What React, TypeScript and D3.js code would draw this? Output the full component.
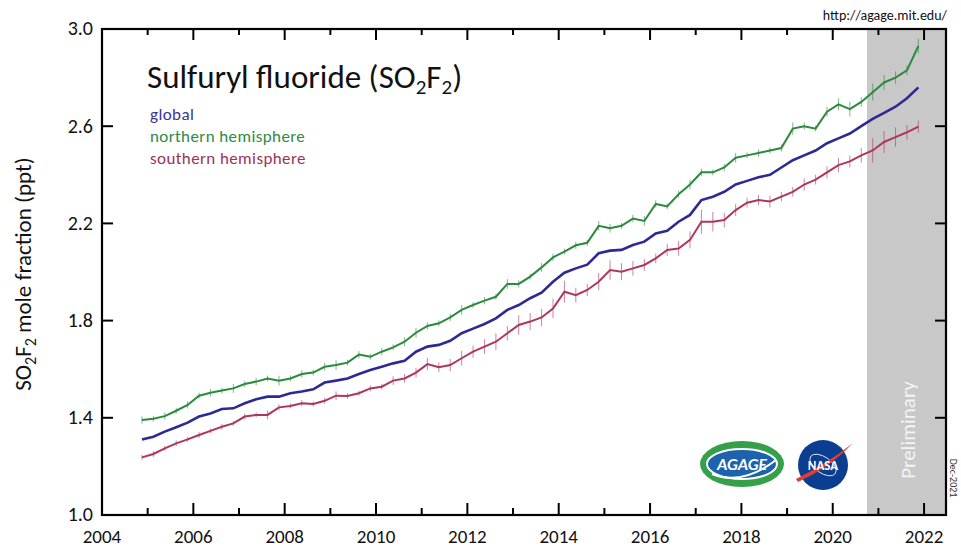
import React from 'react'
import * as d3 from 'd3'

// quarterly readings, first point Nov 2004
const firstMonth = 2004.875
const step = 0.25

const northern = [
  1.391, 1.396, 1.407, 1.429, 1.453, 1.491, 1.503, 1.512, 1.521, 1.539,
  1.549, 1.562, 1.553, 1.562, 1.58, 1.586, 1.61, 1.617, 1.627, 1.66,
  1.651, 1.672, 1.69, 1.713, 1.75, 1.778, 1.789, 1.813, 1.844, 1.864,
  1.882, 1.898, 1.951, 1.951, 1.981, 2.019, 2.06, 2.084,
  2.11, 2.12, 2.19, 2.18, 2.19, 2.22, 2.21, 2.28, 2.27, 2.32,
  2.36, 2.41, 2.41, 2.43, 2.47, 2.48, 2.49, 2.5, 2.51, 2.59,
  2.6, 2.59, 2.66, 2.69, 2.67, 2.7, 2.74, 2.78, 2.8, 2.83, 2.93,
]
const global = [
  1.311, 1.322, 1.343, 1.361, 1.38, 1.405, 1.418, 1.436, 1.439, 1.46,
  1.476, 1.487, 1.487, 1.501, 1.508, 1.517, 1.545, 1.553, 1.562, 1.58,
  1.597, 1.61, 1.624, 1.635, 1.672, 1.693, 1.7, 1.717, 1.748, 1.767,
  1.786, 1.809, 1.844, 1.864, 1.892, 1.915, 1.96, 1.997,
  2.015, 2.03, 2.077, 2.088, 2.091, 2.111, 2.125, 2.159, 2.17, 2.207,
  2.235, 2.296, 2.31, 2.33, 2.36, 2.375, 2.39, 2.4, 2.43, 2.46,
  2.48, 2.5, 2.53, 2.55, 2.57, 2.6, 2.63, 2.655, 2.68, 2.715, 2.76,
]
const southern = [
  1.237, 1.251, 1.274, 1.295, 1.311, 1.329, 1.346, 1.363, 1.377, 1.405,
  1.412, 1.412, 1.443, 1.449, 1.46, 1.457, 1.47, 1.491, 1.49, 1.501,
  1.521, 1.528, 1.553, 1.562, 1.586, 1.621, 1.608, 1.617, 1.645, 1.672,
  1.693, 1.713, 1.748, 1.782, 1.796, 1.813, 1.85, 1.919,
  1.905, 1.926, 1.96, 2.008, 2.001, 2.015, 2.029, 2.056, 2.091, 2.097,
  2.132, 2.207, 2.207, 2.214, 2.255, 2.285, 2.296, 2.29, 2.31, 2.33,
  2.36, 2.38, 2.41, 2.44, 2.455, 2.48, 2.5, 2.535, 2.555, 2.575, 2.598,
]
const northernErr = [
  0.015, 0.012, 0.015, 0.012, 0.015, 0.012, 0.015, 0.012, 0.018, 0.012,
  0.015, 0.012, 0.02, 0.012, 0.015, 0.012, 0.015, 0.02, 0.012, 0.015,
  0.012, 0.015, 0.012, 0.018, 0.02, 0.015, 0.012, 0.015, 0.02, 0.012,
  0.015, 0.012, 0.02, 0.015, 0.012, 0.018, 0.015, 0.012,
  0.015, 0.012, 0.02, 0.018, 0.012, 0.015, 0.02, 0.015, 0.012, 0.015,
  0.02, 0.015, 0.012, 0.015, 0.02, 0.012, 0.015, 0.012, 0.015, 0.025,
  0.015, 0.012, 0.02, 0.025, 0.03, 0.02, 0.035, 0.03, 0.025, 0.02, 0.03,
]
const southernErr = [
  0.01, 0.012, 0.01, 0.012, 0.01, 0.012, 0.01, 0.012, 0.01, 0.012,
  0.01, 0.018, 0.012, 0.01, 0.012, 0.01, 0.012, 0.018, 0.012, 0.01,
  0.012, 0.012, 0.018, 0.018, 0.02, 0.025, 0.02, 0.025, 0.03, 0.025,
  0.03, 0.035, 0.03, 0.04, 0.035, 0.035, 0.04, 0.045,
  0.03, 0.025, 0.035, 0.04, 0.035, 0.03, 0.025, 0.02, 0.025, 0.03,
  0.035, 0.05, 0.04, 0.03, 0.025, 0.02, 0.02, 0.025, 0.02, 0.02,
  0.025, 0.02, 0.025, 0.03, 0.025, 0.03, 0.05, 0.045, 0.04, 0.03, 0.025,
]
const yTicks = [1.0, 1.4, 1.8, 2.2, 2.6, 3.0]
const xLabels = [2004, 2006, 2008, 2010, 2012, 2014, 2016, 2018, 2020, 2022]
const preliminaryFrom = 2020.75

const font = 'Carlito, Lato, "Open Sans", sans-serif'
const cGlobal = '#2d2a94'
const cNorth = '#2b8a3c'
const cSouth = '#ad3560'

export default function App() {
  const width = 961
  const height = 547
  const x = d3.scaleLinear().domain([2004, 2022.48]).range([102, 946])
  const y = d3.scaleLinear().domain([1, 3]).range([515, 29])
  const times = global.map((_, i) => firstMonth + i * step)

  const line = d3
    .line<number>()
    .x((_, i) => x(times[i]))
    .y((d) => y(d))

  const [x0, x1] = x.range()
  const [yb, yt] = y.range()
  const years = d3.range(2005, 2023)

  const errBars = (vals: number[], errs: number[], color: string) =>
    vals.map((v, i) => (
      <line
        key={i}
        x1={x(times[i])}
        x2={x(times[i])}
        y1={y(v - errs[i])}
        y2={y(v + errs[i])}
        stroke={color}
        strokeWidth={1}
        opacity={0.6}
      />
    ))

  return (
    <svg
      width={width}
      height={height}
      style={{ position: 'absolute', left: 0, top: 0, background: '#fff' }}
      fontFamily={font}
    >
      <rect x={x(preliminaryFrom)} y={yt} width={x1 - x(preliminaryFrom)} height={yb - yt} fill="#c8c8c8" />
      <text
        transform={`translate(${(x(preliminaryFrom) + x1) / 2 + 9},${y(1.35)}) rotate(-90)`}
        textAnchor="middle"
        fontSize={21}
        fill="#f4f4f4"
      >
        Preliminary
      </text>

      {/* AGAGE logo */}
      <g transform="translate(742,464)">
        <ellipse rx={42} ry={23} fill="#35a049" />
        <ellipse rx={35} ry={15} fill="#1d62ad" stroke="#fff" strokeWidth={2} />
        <path d="M-30,10 Q0,22 34,-4" fill="none" stroke="#fff" strokeWidth={2} />
        <text y={6} textAnchor="middle" fontSize={17} fontWeight="bold" fontStyle="italic" fill="#fff">
          AGAGE
        </text>
      </g>
      {/* NASA logo */}
      <g transform="translate(823,465)">
        <circle r={25} fill="#0b3d91" />
        <ellipse rx={15} ry={8} fill="none" stroke="#fff" strokeWidth={0.8} transform="rotate(35)" />
        <path d="M-27,14 Q5,-2 30,-22 Q8,2 -25,17 Z" fill="#e03c31" />
        <text y={5} textAnchor="middle" fontSize={13} fontWeight="bold" fill="#fff">
          NASA
        </text>
      </g>

      {errBars(northern, northernErr, cNorth)}
      {errBars(southern, southernErr, cSouth)}
      <path d={line(southern) ?? ''} fill="none" stroke={cSouth} strokeWidth={2} />
      <path d={line(northern) ?? ''} fill="none" stroke={cNorth} strokeWidth={2} />
      <path d={line(global) ?? ''} fill="none" stroke={cGlobal} strokeWidth={2.6} />

      <rect x={x0} y={yt} width={x1 - x0} height={yb - yt} fill="none" stroke="#000" strokeWidth={2.2} />

      {years.map((yr) => {
        const len = yr % 2 === 0 ? 12 : 7
        return (
          <g key={yr} stroke="#000" strokeWidth={2}>
            <line x1={x(yr)} x2={x(yr)} y1={yb} y2={yb - len} />
            <line x1={x(yr)} x2={x(yr)} y1={yt} y2={yt + len - 1} />
          </g>
        )
      })}
      {yTicks.map((t) => (
        <g key={t} stroke="#000" strokeWidth={2}>
          <line x1={x0} x2={x0 + 11} y1={y(t)} y2={y(t)} />
          <line x1={x1} x2={x1 - 11} y1={y(t)} y2={y(t)} />
        </g>
      ))}
      {yTicks.map((t) => (
        <text key={t} x={x0 - 9} y={y(t)} dy="0.32em" textAnchor="end" fontSize={20} fill="#111">
          {t.toFixed(1)}
        </text>
      ))}
      {xLabels.map((yr) => (
        <text key={yr} x={x(yr)} y={543} textAnchor="middle" fontSize={19} fill="#111">
          {yr}
        </text>
      ))}

      <text transform="translate(31,274) rotate(-90)" textAnchor="middle" fontSize={23} fill="#111">
        SO<tspan fontSize={16} dy={5}>2</tspan>
        <tspan dy={-5}>F</tspan>
        <tspan fontSize={16} dy={5}>2</tspan>
        <tspan dy={-5}> mole fraction (ppt)</tspan>
      </text>

      <text x={147} y={88} fontSize={33} fill="#111">
        Sulfuryl fluoride (SO<tspan fontSize={21} dy={6}>2</tspan>
        <tspan dy={-6}>F</tspan>
        <tspan fontSize={21} dy={6}>2</tspan>
        <tspan dy={-6}>)</tspan>
      </text>
      <text x={150} y={120} fontSize={17} letterSpacing={0.4} fill="#3b3599">global</text>
      <text x={150} y={142} fontSize={17} letterSpacing={0.4} fill="#2e8a45">northern hemisphere</text>
      <text x={150} y={164} fontSize={17} letterSpacing={0.4} fill="#9b3358">southern hemisphere</text>

      <text x={947} y={20} textAnchor="end" fontSize={14} fill="#111">
        http://agage.mit.edu/
      </text>
      <text transform="translate(950,478) rotate(90)" textAnchor="middle" fontSize={10} fill="#333">
        Dec-2021
      </text>
    </svg>
  )
}
